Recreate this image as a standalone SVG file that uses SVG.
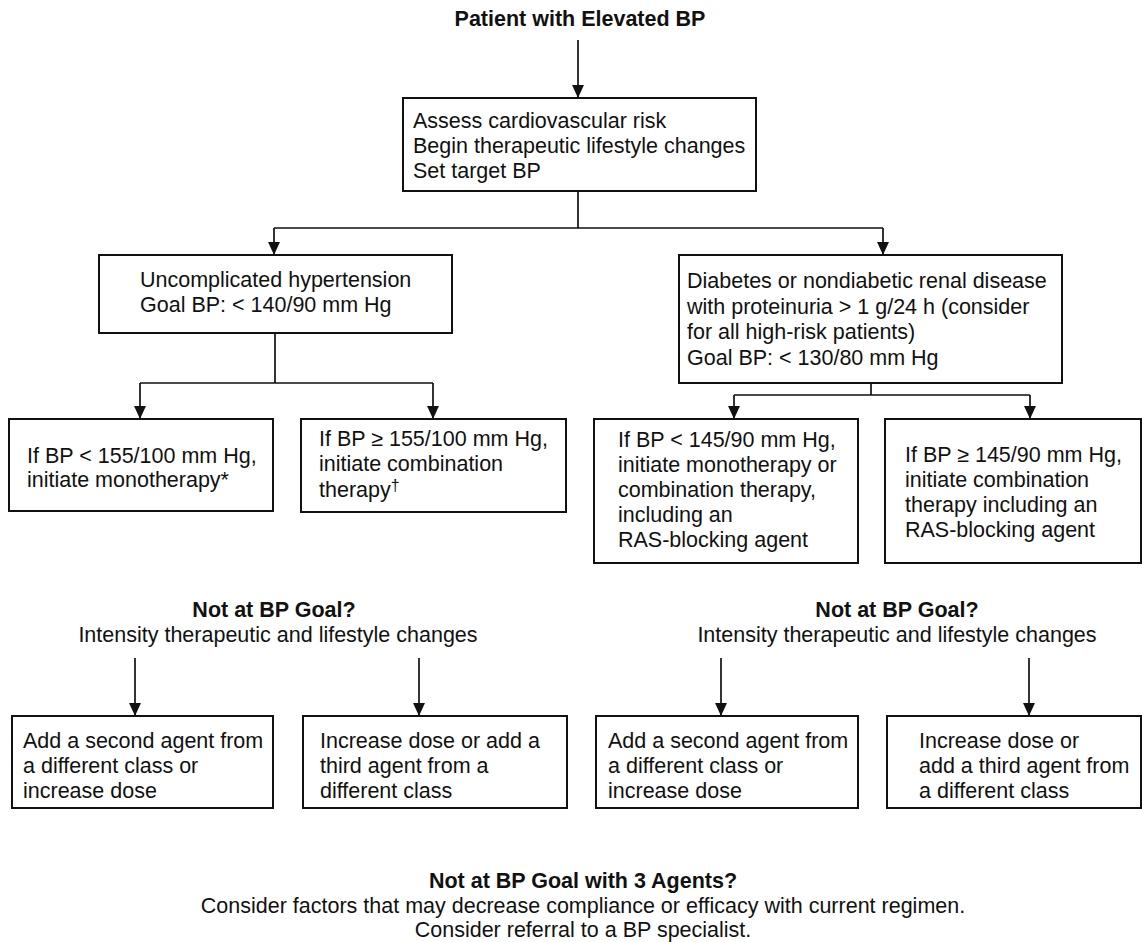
<svg xmlns="http://www.w3.org/2000/svg" width="1142" height="942" viewBox="0 0 1142 942">
<defs>
<style>
text{font-family:"Liberation Sans",Arial,Helvetica,sans-serif;font-size:21.5px;fill:#111}
.b{font-weight:bold}
.c{text-anchor:middle}
.box{fill:#fff;stroke:#111;stroke-width:2}
.ln{fill:none;stroke:#111;stroke-width:1.7}
.ar{fill:none;stroke:#111;stroke-width:1.7;marker-end:url(#ah)}
</style>
<marker id="ah" viewBox="0 0 12 12" refX="12" refY="6" markerWidth="13" markerHeight="13" markerUnits="userSpaceOnUse" orient="auto">
<path d="M0,0.5 L12,6 L0,11.5 z" fill="#111"/>
</marker>
</defs>
<rect width="1142" height="942" fill="#fff"/>

<g id="connectors">
<line class="ar" x1="578" y1="40" x2="578" y2="98"/>
<path class="ln" d="M578,191 V228 M274,228 H883"/>
<line class="ar" x1="274" y1="228" x2="274" y2="255"/>
<line class="ar" x1="883" y1="228" x2="883" y2="255"/>
<path class="ln" d="M275,333 V383 M140,383 H433"/>
<line class="ar" x1="140" y1="383" x2="140" y2="419"/>
<line class="ar" x1="433" y1="383" x2="433" y2="419"/>
<path class="ln" d="M871,383 V395 M734,395 H1030"/>
<line class="ar" x1="734" y1="395" x2="734" y2="419"/>
<line class="ar" x1="1030" y1="395" x2="1030" y2="419"/>
<line class="ar" x1="135" y1="658" x2="135" y2="716"/>
<line class="ar" x1="419" y1="658" x2="419" y2="716"/>
<line class="ar" x1="721" y1="658" x2="721" y2="716"/>
<line class="ar" x1="1029" y1="658" x2="1029" y2="716"/>
</g>

<g id="title">
<text class="b c" x="580" y="26">Patient with Elevated BP</text>
</g>

<g id="assess">
<rect class="box" x="403" y="98" width="353" height="93"/>
<text x="413" y="128">Assess cardiovascular risk</text>
<text x="413" y="153">Begin therapeutic lifestyle changes</text>
<text x="413" y="178">Set target BP</text>
</g>

<g id="uncomplicated">
<rect class="box" x="99" y="255" width="353" height="78"/>
<text x="140" y="287">Uncomplicated hypertension</text>
<text x="140" y="312">Goal BP: &lt; 140/90 mm Hg</text>
</g>

<g id="diabetes">
<rect class="box" x="679" y="255" width="383" height="128"/>
<text x="687" y="288">Diabetes or nondiabetic renal disease</text>
<text x="687" y="314">with proteinuria &gt; 1 g/24 h (consider</text>
<text x="687" y="339">for all high-risk patients)</text>
<text x="687" y="365">Goal BP: &lt; 130/80 mm Hg</text>
</g>

<g id="mono155">
<rect class="box" x="9" y="419" width="264" height="92"/>
<text x="27" y="463">If BP &lt; 155/100 mm Hg,</text>
<text x="27" y="487">initiate monotherapy*</text>
</g>

<g id="combo155">
<rect class="box" x="301" y="419" width="265" height="93"/>
<text x="319" y="446">If BP ≥ 155/100 mm Hg,</text>
<text x="319" y="471">initiate combination</text>
<text x="319" y="497">therapy<tspan font-size="16" dy="-6" fill="#111">†</tspan></text>
</g>

<g id="mono145">
<rect class="box" x="594" y="419" width="264" height="144"/>
<text x="618" y="447">If BP &lt; 145/90 mm Hg,</text>
<text x="618" y="472">initiate monotherapy or</text>
<text x="618" y="497">combination therapy,</text>
<text x="618" y="522">including an</text>
<text x="618" y="547">RAS-blocking agent</text>
</g>

<g id="combo145">
<rect class="box" x="885" y="419" width="256" height="144"/>
<text x="905" y="462">If BP ≥ 145/90 mm Hg,</text>
<text x="905" y="487">initiate combination</text>
<text x="905" y="512">therapy including an</text>
<text x="905" y="537">RAS-blocking agent</text>
</g>

<g id="notgoal-left">
<text class="b c" x="274" y="617">Not at BP Goal?</text>
<text class="c" x="278" y="642">Intensity therapeutic and lifestyle changes</text>
</g>

<g id="notgoal-right">
<text class="b c" x="897" y="617">Not at BP Goal?</text>
<text class="c" x="897" y="642">Intensity therapeutic and lifestyle changes</text>
</g>

<g id="second-left">
<rect class="box" x="12" y="716" width="261" height="92"/>
<text x="23" y="748">Add a second agent from</text>
<text x="23" y="773">a different class or</text>
<text x="23" y="798">increase dose</text>
</g>

<g id="third-left">
<rect class="box" x="303" y="716" width="264" height="92"/>
<text x="320" y="748">Increase dose or add a</text>
<text x="320" y="773">third agent from a</text>
<text x="320" y="798">different class</text>
</g>

<g id="second-right">
<rect class="box" x="596" y="716" width="262" height="92"/>
<text x="608" y="748">Add a second agent from</text>
<text x="608" y="773">a different class or</text>
<text x="608" y="798">increase dose</text>
</g>

<g id="third-right">
<rect class="box" x="887" y="716" width="254" height="92"/>
<text x="919" y="748">Increase dose or</text>
<text x="919" y="773">add a third agent from</text>
<text x="919" y="798">a different class</text>
</g>

<g id="three-agents">
<text class="b c" x="583" y="888">Not at BP Goal with 3 Agents?</text>
<text class="c" x="583" y="913">Consider factors that may decrease compliance or efficacy with current regimen.</text>
<text class="c" x="583" y="937">Consider referral to a BP specialist.</text>
</g>
</svg>
